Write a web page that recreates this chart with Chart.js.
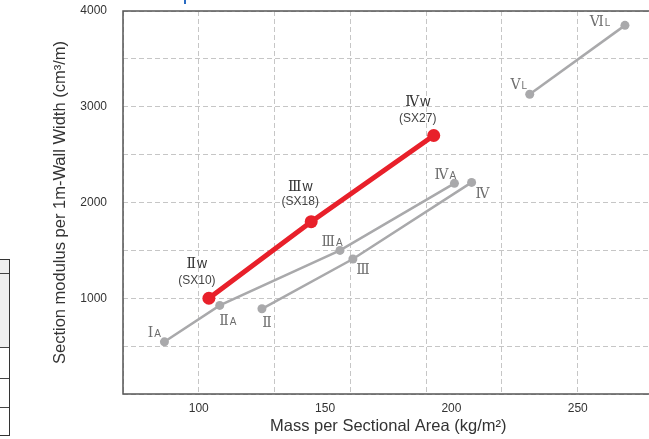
<!DOCTYPE html>
<html>
<head>
<meta charset="utf-8">
<script src="https://cdn.jsdelivr.net/npm/chart.js@4/dist/chart.umd.min.js"></script>
<style>
  html, body { margin: 0; padding: 0; background: #fff; overflow: hidden; }
  #wrap { position: relative; width: 649px; height: 439px; overflow: hidden; }
  #c { position: absolute; left: 0; top: 0; }
  /* bits of the neighbouring figure cut off at the edges */
  #tbl { position: absolute; left: -2px; top: 259px; width: 10px; height: 175px; border: 1px solid #333; }
  #tbl div { position: absolute; left: 0; right: 0; border-top: 1px solid #444; }
  #blue { position: absolute; left: 184px; top: 0; width: 2px; height: 4px; background: #2a6bc2; }
</style>
</head>
<body>
<div id="wrap">
  <div id="tbl">
    <div style="top:0;height:87px;background:#efefef;border-top:none"></div>
    <div style="top:13px"></div>
    <div style="top:87px"></div>
    <div style="top:118px"></div>
    <div style="top:147px"></div>
  </div>
  <div id="blue"></div>
  <canvas id="c" width="660" height="439"></canvas>
</div>
<script>
// axis ticks
const xGridTicks = [70, 100, 130, 160, 190, 220, 250, 280];
const xTickLabels = [100, 150, 200, 250];
const yTickLabels = [1000, 2000, 3000, 4000];

// wide type (red)
const wNumerals = ["Ⅱ", "Ⅲ", "Ⅳ"];
const wModels = ["(SX10)", "(SX18)", "(SX27)"];
const wMass = [104, 144.5, 193];
const wModulus = [1000, 1800, 2700];

// A type
const aNumerals = ["Ⅰ", "Ⅱ", "Ⅲ", "Ⅳ"];
const aMass = [86.4, 108.3, 155.9, 201.2];
const aModulus = [545, 925, 1500, 2200];

// standard type
const sNumerals = ["Ⅱ", "Ⅲ", "Ⅳ"];
const sMass = [125, 161, 208];
const sModulus = [890, 1410, 2210];

// L type
const lNumerals = ["Ⅴ", "Ⅵ"];
const lMass = [231, 268.7];
const lModulus = [3130, 3850];

const GRAY = "#a9a9ab";
const RED = "#e8202a";

function pts(xs, ys) {
  return xs.map((x, i) => ({ x: x, y: ys[i] }));
}

// label offsets from each point (px)
const labelOffsets = {
  w: [[-12, -35, -18], [-11, -36, -20], [-16, -34, -17]],
  a: [[-10, -10], [8, 15], [-8, -9], [-9, -9]],
  s: [[5, 13], [10, 10], [11, 11]],
  l: [[-11, -10], [-25, -4]]
};

const numFont = '14px "DejaVu Serif"';

function drawTag(ctx, x, y, main, sub, subFont, color) {
  ctx.font = numFont;
  const w1 = ctx.measureText(main).width;
  ctx.font = subFont;
  const w2 = sub ? ctx.measureText(sub).width + 1 : 0;
  const sx = x - (w1 + w2) / 2;
  ctx.fillStyle = color;
  ctx.textAlign = "left";
  ctx.textBaseline = "alphabetic";
  ctx.font = numFont;
  ctx.fillText(main, sx, y + 5);
  if (sub) {
    ctx.font = subFont;
    ctx.fillText(sub, sx + w1 + 1, y + 5);
  }
}

const framePlugin = {
  id: "frame",
  beforeDatasetsDraw(chart) {
    const { ctx, chartArea: a } = chart;
    ctx.save();
    ctx.strokeStyle = "#555";
    ctx.lineWidth = 1.5;
    ctx.strokeRect(a.left, a.top, a.right - a.left, a.bottom - a.top);
    ctx.restore();
  }
};

const tagPlugin = {
  id: "tags",
  afterDatasetsDraw(chart) {
    const ctx = chart.ctx;
    ctx.save();
    chart.data.datasets.forEach((ds, di) => {
      const meta = chart.getDatasetMeta(di);
      const offs = labelOffsets[ds.key];
      ds.numerals.forEach((n, i) => {
        const p = meta.data[i];
        const o = offs[i];
        if (ds.key === "w") {
          drawTag(ctx, p.x + o[0], p.y + o[1], n, ds.suffix, '14px "Liberation Sans"', "#333");
          ctx.font = '12px "Liberation Sans"';
          ctx.textAlign = "center";
          ctx.textBaseline = "middle";
          ctx.fillStyle = "#444";
          ctx.fillText(wModels[i], p.x + o[0], p.y + o[2]);
        } else {
          drawTag(ctx, p.x + o[0], p.y + o[1], n, ds.suffix, '10px "Liberation Sans"', "#6e6e6e");
        }
      });
    });
    ctx.restore();
  }
};

new Chart(document.getElementById("c"), {
  type: "line",
  data: {
    datasets: [
      {
        key: "w", numerals: wNumerals, suffix: "w",
        data: pts(wMass, wModulus),
        borderColor: RED, backgroundColor: RED,
        borderWidth: 5, pointRadius: 6.5, pointBorderWidth: 0
      },
      {
        key: "a", numerals: aNumerals, suffix: "A",
        data: pts(aMass, aModulus),
        borderColor: GRAY, backgroundColor: GRAY,
        borderWidth: 2.5, pointRadius: 4.5, pointBorderWidth: 0
      },
      {
        key: "s", numerals: sNumerals, suffix: "",
        data: pts(sMass, sModulus),
        borderColor: GRAY, backgroundColor: GRAY,
        borderWidth: 2.5, pointRadius: 4.5, pointBorderWidth: 0
      },
      {
        key: "l", numerals: lNumerals, suffix: "L",
        data: pts(lMass, lModulus),
        borderColor: GRAY, backgroundColor: GRAY,
        borderWidth: 2.5, pointRadius: 4.5, pointBorderWidth: 0
      }
    ]
  },
  options: {
    responsive: false,
    animation: false,
    layout: { padding: { top: 11, right: 6, bottom: 0, left: 0 } },
    plugins: { legend: { display: false }, tooltip: { enabled: false } },
    scales: {
      x: {
        type: "linear",
        min: 70,
        max: 280,
        afterFit: (axis) => {
          axis.height = 45;
          axis.paddingLeft = 0;
          axis.paddingRight = 0;
        },
        afterBuildTicks: (axis) => {
          const vals = [...new Set([...xGridTicks, ...xTickLabels])].sort((a, b) => a - b);
          axis.ticks = vals.map((v) => ({ value: v }));
        },
        grid: {
          drawTicks: false,
          color: (ctx) => (ctx.tick && xGridTicks.includes(ctx.tick.value) ? "#c6c6c6" : "rgba(0,0,0,0)")
        },
        border: { display: false, dash: [5, 3] },
        ticks: {
          autoSkip: false,
          maxRotation: 0,
          padding: 7,
          color: "#333",
          font: { family: "Liberation Sans", size: 12 },
          callback: (v) => (xTickLabels.includes(v) ? String(v) : "")
        },
        title: {
          display: true,
          text: "Mass per Sectional Area (kg/m²)",
          color: "#333",
          font: { family: "Liberation Sans", size: 16.5 },
          padding: { top: 0, bottom: 3 }
        }
      },
      y: {
        type: "linear",
        min: 0,
        max: 4000,
        afterFit: (axis) => {
          axis.width = 123;
          axis.paddingTop = 0;
          axis.paddingBottom = 0;
        },
        grid: { drawTicks: false, color: "#c6c6c6" },
        border: { display: false, dash: [5, 3] },
        ticks: {
          stepSize: 500,
          padding: 16,
          color: "#333",
          font: { family: "Liberation Sans", size: 12 },
          callback: (v) => (yTickLabels.includes(v) ? String(v) : "")
        },
        title: {
          display: true,
          text: "Section modulus per 1m-Wall Width (cm³/m)",
          color: "#333",
          font: { family: "Liberation Sans", size: 16.5 },
          padding: { top: 51, bottom: 0 }
        }
      }
    }
  },
  plugins: [framePlugin, tagPlugin]
});
</script>
</body>
</html>
